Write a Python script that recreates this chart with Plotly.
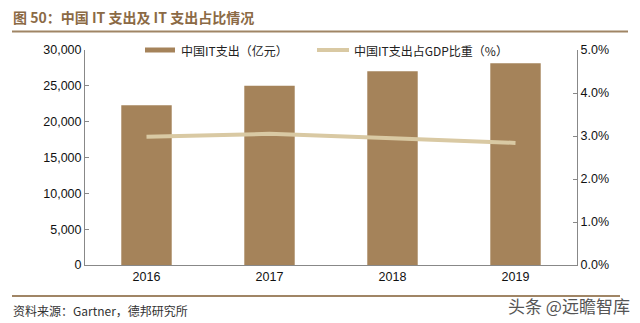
import plotly.graph_objects as go

years = ["2016", "2017", "2018", "2019"]
it_spend = [22300, 25000, 27050, 28150]
gdp_share = [2.98, 3.05, 2.95, 2.84]
series_names = ["中国IT支出（亿元）", "中国IT支出占GDP比重（%）"]

bar_color = "#A5835A"
line_color = "#D9C9A3"
font_main = "Liberation Sans, Arial, Noto Sans CJK SC"
cjk = "Noto Sans CJK SC"

fig = go.Figure()
fig.add_trace(go.Bar(x=years, y=it_spend, name=series_names[0],
                     marker=dict(color=bar_color, line=dict(width=0)), width=0.41))
fig.add_trace(go.Scatter(x=years, y=gdp_share, name=series_names[1], yaxis="y2",
                         mode="lines", line=dict(color=line_color, width=4)))

fig.update_layout(
    width=640, height=323,
    margin=dict(l=85, r=63, t=50, b=58),
    paper_bgcolor="white", plot_bgcolor="white",
    font=dict(family=font_main, size=12, color="#222"),
    showlegend=False,
    xaxis=dict(showline=True, linecolor="#888", linewidth=1, ticks="", tickfont=dict(size=12.5, color="#111")),
    yaxis=dict(range=[0, 30000], dtick=5000, tickformat=",", showgrid=False, showline=True,
               linecolor="#888", linewidth=1, ticks="inside", ticklen=4, tickcolor="#888",
               tickfont=dict(size=12.5, color="#111"), zeroline=False),
    yaxis2=dict(range=[0, 5], dtick=1, ticksuffix="%", tickformat=".1f", overlaying="y", side="right",
                showgrid=False, showline=True, linecolor="#888", linewidth=1, ticks="inside",
                ticklen=4, tickcolor="#888", tickfont=dict(size=12.5, color="#111"), zeroline=False),
)

def px_x(p):
    return (p - 85) / 492.0

def px_y(p):
    return (265 - p) / 215.0

# header / footer rules
fig.add_shape(type="line", xref="paper", yref="paper", x0=px_x(12), x1=px_x(628), y0=px_y(31.5), y1=px_y(31.5),
              line=dict(color="#A08565", width=2))
fig.add_shape(type="line", xref="paper", yref="paper", x0=px_x(12), x1=px_x(620), y0=px_y(296), y1=px_y(296),
              line=dict(color="#A08565", width=2))

# custom legend
fig.add_shape(type="rect", xref="paper", yref="paper", x0=px_x(145), x1=px_x(175), y0=px_y(52.5), y1=px_y(47.5),
              fillcolor=bar_color, line=dict(width=0))
fig.add_annotation(xref="paper", yref="paper", x=px_x(179), y=px_y(50), xanchor="left", yanchor="middle",
                   text=series_names[0], showarrow=False, font=dict(family=cjk, size=12, color="#222"))
fig.add_shape(type="line", xref="paper", yref="paper", x0=px_x(317), x1=px_x(349), y0=px_y(50), y1=px_y(50),
              line=dict(color=line_color, width=4))
fig.add_annotation(xref="paper", yref="paper", x=px_x(352), y=px_y(50), xanchor="left", yanchor="middle",
                   text=series_names[1], showarrow=False, font=dict(family=cjk, size=12, color="#222"))

fig.add_annotation(xref="paper", yref="paper", x=px_x(11), y=px_y(17), xanchor="left", yanchor="middle",
                   text="<b>图 50：中国 IT 支出及 IT 支出占比情况</b>", showarrow=False,
                   font=dict(family=cjk, size=14, color="#8B6A45"))
fig.add_annotation(xref="paper", yref="paper", x=px_x(11), y=px_y(310), xanchor="left", yanchor="middle",
                   text="资料来源：Gartner，德邦研究所", showarrow=False,
                   font=dict(family=cjk, size=12, color="#333"))
fig.add_annotation(xref="paper", yref="paper", x=px_x(632), y=px_y(305), xanchor="right", yanchor="middle",
                   text="头条 @远瞻智库", showarrow=False,
                   font=dict(family=cjk, size=17, color="#555"))

fig.write_html("out.html")
